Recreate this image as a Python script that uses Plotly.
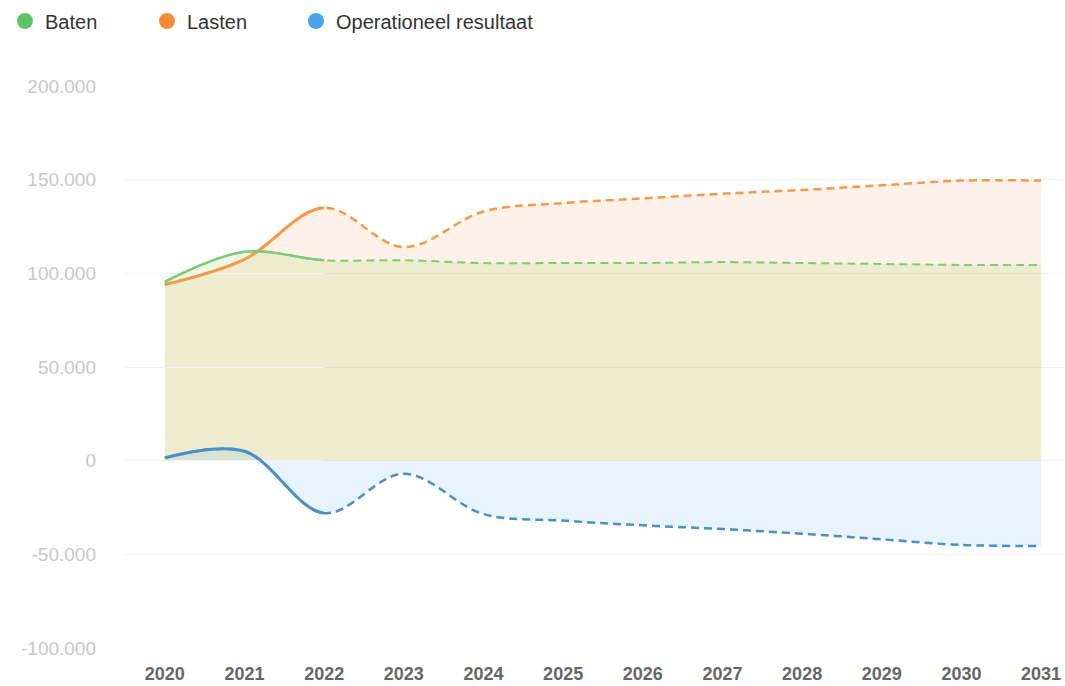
import plotly.graph_objects as go

years = ["2020", "2021", "2022", "2023", "2024", "2025", "2026", "2027", "2028", "2029", "2030", "2031"]
baten = [95500, 111500, 107000, 107000, 105500, 105500, 105500, 106000, 105500, 105000, 104500, 104500]
lasten = [94000, 107500, 135000, 114000, 133000, 137500, 140000, 142500, 144500, 147000, 149500, 149500]
resultaat = [1500, 5000, -28000, -7000, -28500, -32000, -34500, -36500, -39000, -42000, -45000, -45500]

y_tickvals = [-100000, -50000, 0, 50000, 100000, 150000, 200000]
y_ticktext = ["-100.000", "-50.000", "0", "50.000", "100.000", "150.000", "200.000"]

X_MIN, X_MAX = -0.5, 11.3
SPLIT = 2.0  # realised up to 2022 (solid), forecast afterwards (dashed)

series = [
    ("Lasten", lasten, "#f39a4c", "rgba(245,150,70,0.13)", 2.5),
    ("Baten", baten, "#7ccb78", "rgba(125,200,55,0.13)", 2),
    ("Operationeel resultaat", resultaat, "#4a8fc6", "rgba(90,180,235,0.14)", 2.5),
]

fig = go.Figure()

# fills + dashed lines over full range on main axis
for name, vals, lcol, fcol, lw in series:
    fig.add_trace(go.Scatter(
        x=years, y=vals, mode="lines",
        line=dict(color=lcol, width=lw, shape="spline", smoothing=1, dash="8px,5px"),
        fill="tozeroy", fillcolor=fcol, showlegend=False, hoverinfo="skip"))

# solid lines on a clipped overlay axis covering only the realised years
for name, vals, lcol, fcol, lw in series:
    fig.add_trace(go.Scatter(
        x=years, y=vals, mode="lines", xaxis="x2", yaxis="y",
        line=dict(color=lcol, width=lw + 0.5, shape="spline", smoothing=1),
        showlegend=False, hoverinfo="skip"))

# legend entries (circles), each in its own legend for exact placement
legend_items = [("Baten", "#5ec467", "legend", 5), ("Lasten", "#f58a3a", "legend2", 147),
                ("Operationeel resultaat", "#4da3e8", "legend3", 296)]
for name, col, lg, _ in legend_items:
    fig.add_trace(go.Scatter(
        x=[None], y=[None], mode="markers", name=name, legend=lg,
        marker=dict(color=col, size=22, symbol="circle")))

W, H = 1065, 686
ML, MR, MT, MB = 125, 0, 86, 38

leg_common = dict(
    orientation="h", xref="container", yref="container",
    xanchor="left", yanchor="middle",
    y=1 - 21 / H,
    font=dict(size=20, color="#333333"),
    bgcolor="rgba(0,0,0,0)")

layout_legends = {}
for name, col, lg, px in legend_items:
    layout_legends[lg] = dict(leg_common, x=px / W)

fig.update_layout(
    width=W, height=H,
    margin=dict(l=ML, r=MR, t=MT, b=MB, autoexpand=False),
    paper_bgcolor="white", plot_bgcolor="rgba(0,0,0,0)",
    font=dict(family="Liberation Sans, Arial, sans-serif"),
    xaxis=dict(
        type="category", range=[X_MIN, X_MAX], categoryarray=years, categoryorder="array",
        domain=[0, 1], anchor="y",
        showgrid=False, zeroline=False, showline=False, ticks="", automargin=False,
        tickfont=dict(size=18, color="#666666", weight="bold"),
        ticklabelstandoff=13),
    xaxis2=dict(
        type="category", range=[X_MIN, SPLIT], categoryarray=years, categoryorder="array",
        domain=[0, (SPLIT - X_MIN) / (X_MAX - X_MIN)], anchor="y",
        showgrid=False, zeroline=False, showline=False, ticks="",
        showticklabels=False, automargin=False),
    yaxis=dict(
        range=[-100000, 200000], domain=[0, 1], anchor="x",
        tickvals=y_tickvals, ticktext=y_ticktext,
        showgrid=True, gridcolor="#f2f2f2", gridwidth=1,
        zeroline=False, showline=False, ticks="", automargin=False,
        tickfont=dict(size=19, color="#c8c8c8"),
        ticklabelstandoff=28),
    hovermode=False,
    **layout_legends,
)

fig.write_html("out.html",
               config={"displayModeBar": False},
               post_script="document.body.style.margin='0px';document.body.style.overflow='hidden';")
